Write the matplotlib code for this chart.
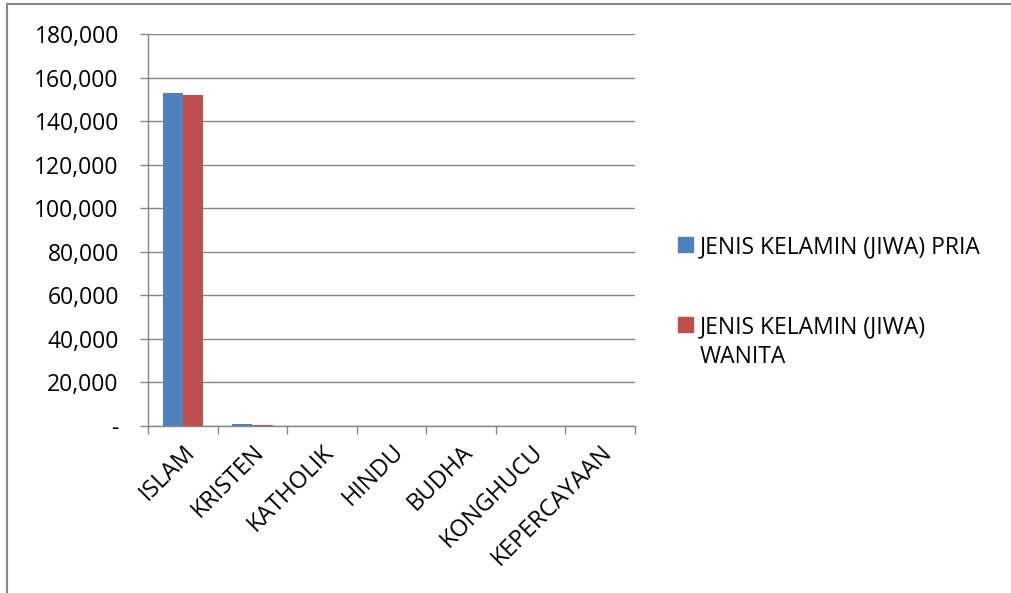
import matplotlib.pyplot as plt
import matplotlib.patches as mpatches
from matplotlib.ticker import FuncFormatter, MultipleLocator
import numpy as np

plt.rcParams['font.family'] = ['Open Sans', 'DejaVu Sans']

agama = ["ISLAM", "KRISTEN", "KATHOLIK", "HINDU", "BUDHA", "KONGHUCU", "KEPERCAYAAN"]
pria = [152900, 700, 60, 10, 15, 5, 0]
wanita = [152100, 650, 55, 8, 12, 4, 0]
labels = ["JENIS KELAMIN (JIWA) PRIA", "JENIS KELAMIN (JIWA)\nWANITA"]

blue = "#4f81bd"
red = "#c0504d"
grey = "#868686"
fs = 16.5
W, H = 1012, 593

fig = plt.figure(figsize=(W / 100, H / 100), dpi=100)
ax = fig.add_axes([148 / W, 1 - 426 / H, 487 / W, 392 / H])

x = np.arange(len(agama))
w = 0.29
ax.bar(x - w / 2, pria, w, color=blue)
ax.bar(x + w / 2, wanita, w, color=red)

ax.set_xlim(-0.5, len(agama) - 0.5)
ax.set_ylim(0, 180000)
ax.yaxis.set_major_locator(MultipleLocator(20000))
ax.yaxis.set_major_formatter(FuncFormatter(lambda v, p: "-" if v == 0 else f"{v:,.0f}"))
ax.grid(axis="y", color=grey, linewidth=1)
ax.set_axisbelow(True)

ax.set_xticks(x)
ax.set_xticklabels(agama, rotation=45, ha="right", rotation_mode="anchor", fontsize=17)
ax.tick_params(axis="x", length=0, pad=10)
ax.set_xticks(np.arange(-0.5, len(agama)), minor=True)
ax.tick_params(axis="x", which="minor", length=6, color=grey, width=1)
ax.tick_params(axis="y", length=6, color=grey, width=1, labelsize=fs, pad=15)

for s in ["top", "right"]:
    ax.spines[s].set_visible(False)
for s in ["left", "bottom"]:
    ax.spines[s].set_color(grey)
    ax.spines[s].set_linewidth(1)

# legend drawn by hand, squares lined up with the first text line
for color, label, yc in zip([blue, red], labels, [244, 324]):
    fig.patches.append(mpatches.Rectangle((678 / W, 1 - (yc + 7.5) / H), 15 / W, 15 / H,
                                          transform=fig.transFigure, color=color))
    for i, line in enumerate(label.split("\n")):
        fig.text(700 / W, 1 - (yc + 30 * i) / H, line, fontsize=fs,
                 va="center_baseline", ha="left")

# chart frame (only top and left edges inside the image)
fig.patches.append(mpatches.Rectangle((7 / W, -0.1), 1.2, 1.1 - 4.5 / H, transform=fig.transFigure,
                                      fill=False, edgecolor=grey, linewidth=1.5))

fig.savefig("out.png", dpi=100)
